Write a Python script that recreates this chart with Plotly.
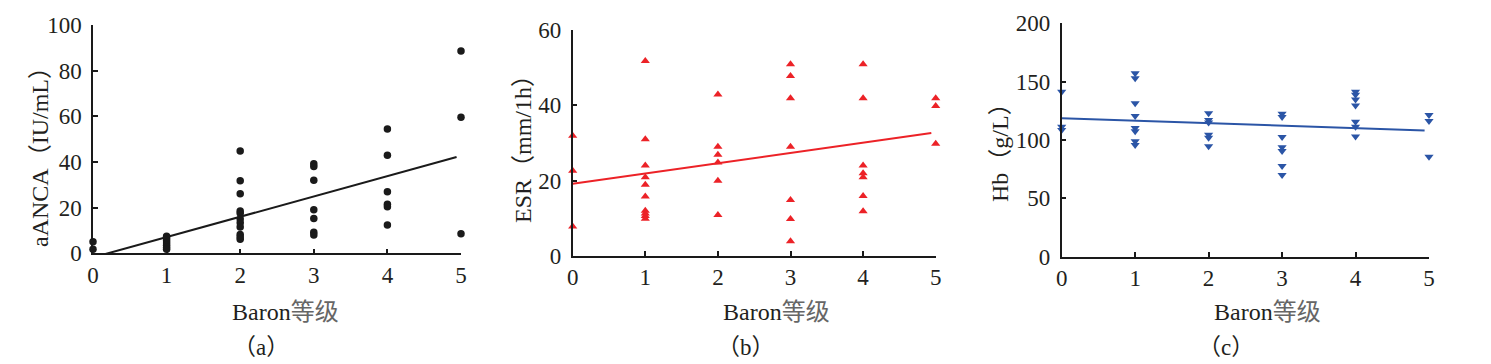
import plotly.graph_objects as go

# ---------------- data ----------------
grades_a = [0, 0,
            1, 1, 1, 1, 1, 1, 1,
            2, 2, 2, 2, 2, 2, 2, 2, 2, 2, 2,
            3, 3, 3, 3, 3, 3, 3,
            4, 4, 4, 4, 4, 4,
            5, 5, 5]
aanca = [5.1, 1.8,
         7.5, 6.5, 5.5, 4.5, 3.5, 2.5, 1.8,
         44.8, 31.8, 26.1, 18.5, 17.5, 15.0, 13.4, 11.5, 8.2, 7.1, 6.2,
         39.2, 38.0, 32.0, 19.1, 15.2, 9.2, 8.0,
         54.4, 43.0, 27.0, 21.5, 20.4, 12.4,
         88.6, 59.6, 8.6]

grades_b = [0, 0, 0,
            1, 1, 1, 1, 1, 1, 1, 1, 1, 1,
            2, 2, 2, 2, 2, 2,
            3, 3, 3, 3, 3, 3, 3,
            4, 4, 4, 4, 4, 4, 4,
            5, 5, 5]
esr = [31.9, 22.6, 7.8,
       51.8, 31.0, 24.0, 20.9, 18.9, 15.8, 12.0, 11.3, 10.6, 9.9,
       42.9, 29.0, 26.9, 24.8, 20.0, 10.9,
       50.9, 47.8, 41.9, 29.0, 14.9, 9.8, 3.9,
       50.9, 41.9, 24.0, 22.0, 20.9, 15.9, 11.9,
       41.9, 39.8, 29.8]

grades_c = [0, 0, 0,
            1, 1, 1, 1, 1, 1, 1, 1,
            2, 2, 2, 2, 2, 2,
            3, 3, 3, 3, 3, 3, 3,
            4, 4, 4, 4, 4, 4, 4,
            5, 5, 5]
hb = [141.4, 111.4, 108.6,
      157.1, 152.9, 131.5, 120.6, 110.3, 107.5, 99.0, 95.7,
      123.0, 117.1, 115.0, 104.6, 102.0, 94.6,
      122.5, 119.7, 102.6, 93.7, 90.5, 77.7, 70.0,
      141.4, 138.8, 134.6, 129.5, 115.7, 111.4, 102.9,
      121.4, 116.3, 85.7]

# fitted regression lines (intercept, slope) and drawn x-extent
fit_a = (-1.8, 8.9)
fit_b = (19.2, 2.72)
fit_c = (118.6, -2.1)
fit_x_range = [0, 4.94]

x_ticks = [0, 1, 2, 3, 4, 5]
y_ticks_a = [0, 20, 40, 60, 80, 100]
y_ticks_b = [0, 20, 40, 60]
y_ticks_c = [0, 50, 100, 150, 200]

y_titles = ["aANCA（IU/mL）", "ESR（mm/1h）", "Hb（g/L）"]
x_title_latin = "Baron"
x_title_cjk = "等级"
panel_labels = ["（a）", "（b）", "（c）"]

# ---------------- style ----------------
W, H = 1491, 364
FONT = "Liberation Serif, 'Noto Sans CJK SC', serif"
TXT = "#231f20"
BLACK = "#1a1a1a"
RED = "#ec2227"
BLUE = "#2b55a6"

# plot areas in pixels (left, right, top, bottom)
areas = [(93, 461, 25, 253.3), (572.7, 935.7, 30, 256), (1061.7, 1429, 23.3, 256.7)]

def line_y(fit, xs):
    b0, b1 = fit
    return [b0 + b1 * x for x in xs]

fig = go.Figure()

series = [
    (grades_a, aanca, fit_a, BLACK, "circle", 7.5, y_ticks_a),
    (grades_b, esr, fit_b, RED, "triangle-up", 8, y_ticks_b),
    (grades_c, hb, fit_c, BLUE, "triangle-down", 8, y_ticks_c),
]

for i, (gx, vy, fit, col, sym, msz, yt) in enumerate(series):
    xa = "x" if i == 0 else f"x{i+1}"
    ya = "y" if i == 0 else f"y{i+1}"
    fig.add_trace(go.Scatter(x=gx, y=vy, mode="markers", xaxis=xa, yaxis=ya,
                             marker=dict(symbol=sym, size=msz, color=col, line=dict(width=0)),
                             cliponaxis=False, showlegend=False, hoverinfo="skip"))
    fig.add_trace(go.Scatter(x=fit_x_range, y=line_y(fit, fit_x_range), mode="lines",
                             xaxis=xa, yaxis=ya, line=dict(color=col, width=2),
                             showlegend=False, hoverinfo="skip"))

    l, r, t, b = areas[i]
    xkey = "xaxis" if i == 0 else f"xaxis{i+1}"
    ykey = "yaxis" if i == 0 else f"yaxis{i+1}"
    common = dict(showgrid=False, zeroline=False, showline=True, linecolor=BLACK, linewidth=1.5,
                  ticks="inside", ticklen=5, tickwidth=1.5, tickcolor=BLACK, automargin=False,
                  tickfont=dict(family=FONT, size=23, color=TXT), fixedrange=True)
    fig.update_layout({
        xkey: dict(common, domain=[l / W, r / W], range=[0, 5], tickvals=x_ticks,
                   anchor=ya, ticklabelstandoff=0),
        ykey: dict(common, domain=[1 - b / H, 1 - t / H], range=[0, yt[-1]], tickvals=yt,
                   anchor=xa, ticklabelstandoff=5),
    })

# axis titles and panel labels
ytitle_pos = [(40, 151), (523, 143), (1000, 147)]
xtitle_x = [285, 776, 1267]
label_x = [261, 746, 1226]
x_title = x_title_latin + "<span style='color:#666666'>" + x_title_cjk + "</span>"
for i in range(3):
    fig.add_annotation(text=y_titles[i], x=ytitle_pos[i][0] / W, y=1 - ytitle_pos[i][1] / H,
                       xref="paper", yref="paper", showarrow=False, textangle=-90,
                       font=dict(family=FONT, size=24, color=TXT), xanchor="center", yanchor="middle")
    fig.add_annotation(text=x_title, x=xtitle_x[i] / W, y=1 - 311.7 / H,
                       xref="paper", yref="paper", showarrow=False,
                       font=dict(family=FONT, size=24, color=TXT), xanchor="center", yanchor="middle")
    fig.add_annotation(text=panel_labels[i], x=label_x[i] / W, y=1 - 347 / H,
                       xref="paper", yref="paper", showarrow=False,
                       font=dict(family=FONT, size=23, color=TXT), xanchor="center", yanchor="middle")

fig.update_layout(width=W, height=H, margin=dict(l=0, r=0, t=0, b=0),
                  paper_bgcolor="white", plot_bgcolor="white")

fig.write_html("out.html", config={"displayModeBar": False},
               post_script="document.body.style.margin='0';document.body.style.overflow='hidden';")
